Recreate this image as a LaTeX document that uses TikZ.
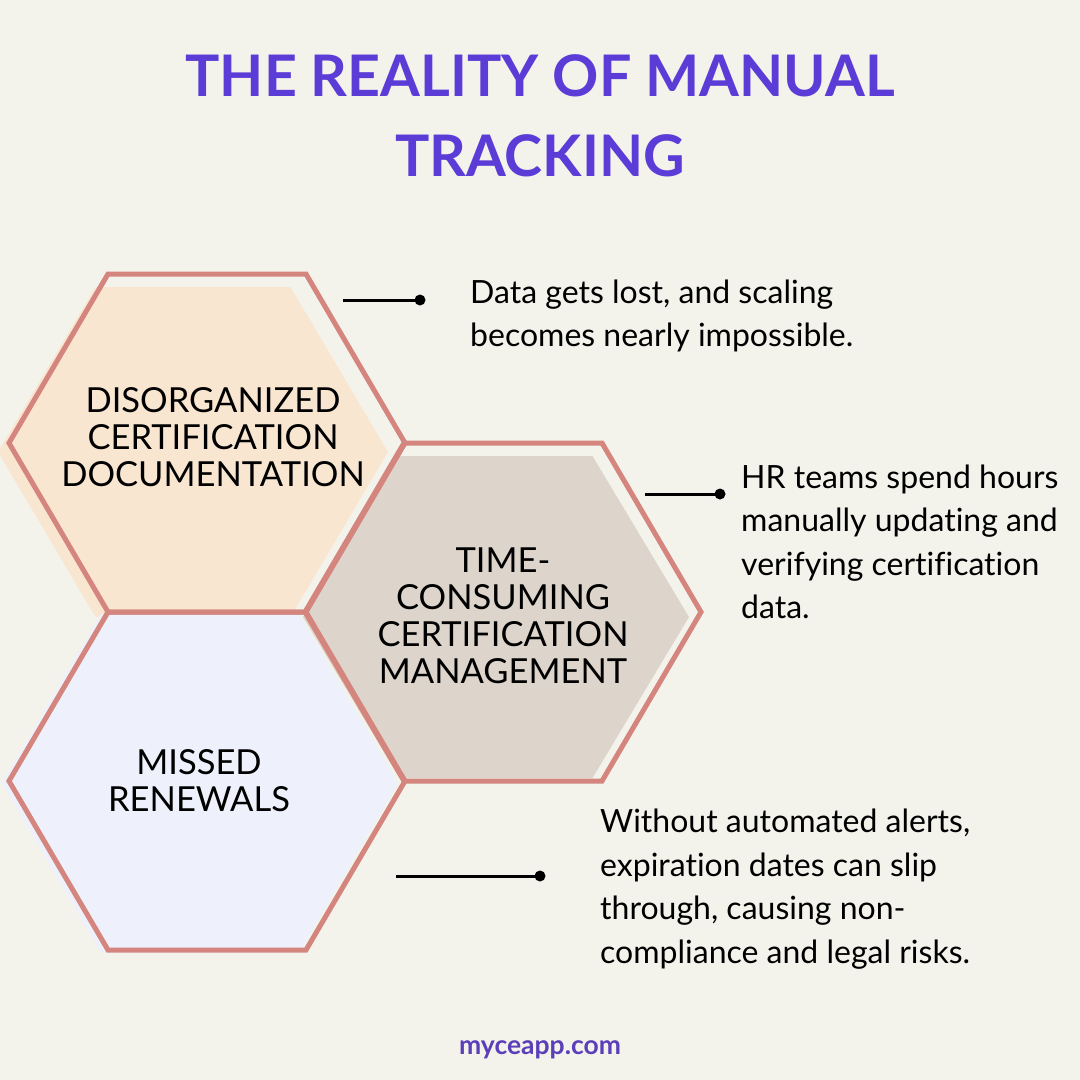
\documentclass[tikz,border=0pt]{standalone}
\usepackage{fontspec}
\setmainfont{Lato}[Ligatures=NoCommon]
\usetikzlibrary{calc}
\definecolor{bgc}{HTML}{F3F3EC}
\definecolor{edgec}{HTML}{D4857E}
\definecolor{peach}{HTML}{F9E6D1}
\definecolor{taupe}{HTML}{DDD5CC}
\definecolor{lav}{HTML}{EEF1FB}
\definecolor{titlec}{HTML}{5B3CD6}
\definecolor{footc}{HTML}{5A3FB8}
\tikzset{
  hexfill/.style={fill=#1, draw=none},
  hexedge/.style={draw=edgec, line width=5pt, line join=miter},
  hexlabel/.style={align=center, font=\fontsize{34.5}{37}\selectfont, text=black, inner sep=0pt},
  bodytext/.style={align=left, anchor=west, font=\fontsize{32}{43.5}\selectfont, text=black, inner sep=0pt},
  connector/.style={draw=black, line width=3pt},
  dotnode/.style={circle, fill=black, inner sep=0pt, minimum size=11pt},
}
% \hexpath{cx}{cy}{half-width}{half-height}
\newcommand{\hexpath}[4]{(#1-#3,#2) -- (#1-#3/2,#2-#4) -- (#1+#3/2,#2-#4) -- (#1+#3,#2) -- (#1+#3/2,#2+#4) -- (#1-#3/2,#2+#4) -- cycle}
\begin{document}
\begin{tikzpicture}[x=1pt, y=-1pt]
\useasboundingbox (0,0) rectangle (1080,1080);
\fill[bgc] (0,0) rectangle (1080,1080);
% fills (offset)
\path[hexfill=peach] \hexpath{193}{452}{195}{165};
\path[hexfill=taupe] \hexpath{496}{617}{193}{161};
\path[hexfill=lav] \hexpath{200}{783}{198}{169};
% outlines
\draw[hexedge] \hexpath{207}{443}{198}{169};
\draw[hexedge] \hexpath{503}{612}{198}{169};
\draw[hexedge] \hexpath{207}{781}{198}{169};
% title
\node[align=center, font=\fontsize{57.3}{80}\selectfont\bfseries, text=titlec, inner sep=0pt] (title) at (540,116) {THE REALITY OF MANUAL\\TRACKING};
% hex labels
\node[hexlabel] (h1) at (213,437) {DISORGANIZED\\CERTIFICATION\\DOCUMENTATION};
\node[hexlabel] (h2) at (503,616) {TIME-\\CONSUMING\\CERTIFICATION\\MANAGEMENT};
\node[hexlabel] (h3) at (199,781) {MISSED\\RENEWALS};
% connectors
\coordinate (c1s) at (343,300);
\node[dotnode] (d1) at (420,300) {};
\draw[connector] (c1s) -- (d1.center);
\coordinate (c2s) at (645,494);
\node[dotnode] (d2) at (720,494) {};
\draw[connector] (c2s) -- (d2.center);
\coordinate (c3s) at (396,876);
\node[dotnode] (d3) at (540,876) {};
\draw[connector] (c3s) -- (d3.center);
% body texts
\node[bodytext] (t1) at (470,316) {Data gets lost, and scaling\\becomes nearly impossible.};
\node[bodytext] (t2) at (741,542) {HR teams spend hours\\manually updating and\\verifying certification\\data.};
\node[bodytext] (t3) at (600,889) {Without automated alerts,\\expiration dates can slip\\through, causing non-\\compliance and legal risks.};
% footer
\node[font=\fontsize{26.5}{30}\selectfont\bfseries, text=footc, inner sep=0pt] (foot) at (540,1050) {myceapp.com};
\end{tikzpicture}
\end{document}
